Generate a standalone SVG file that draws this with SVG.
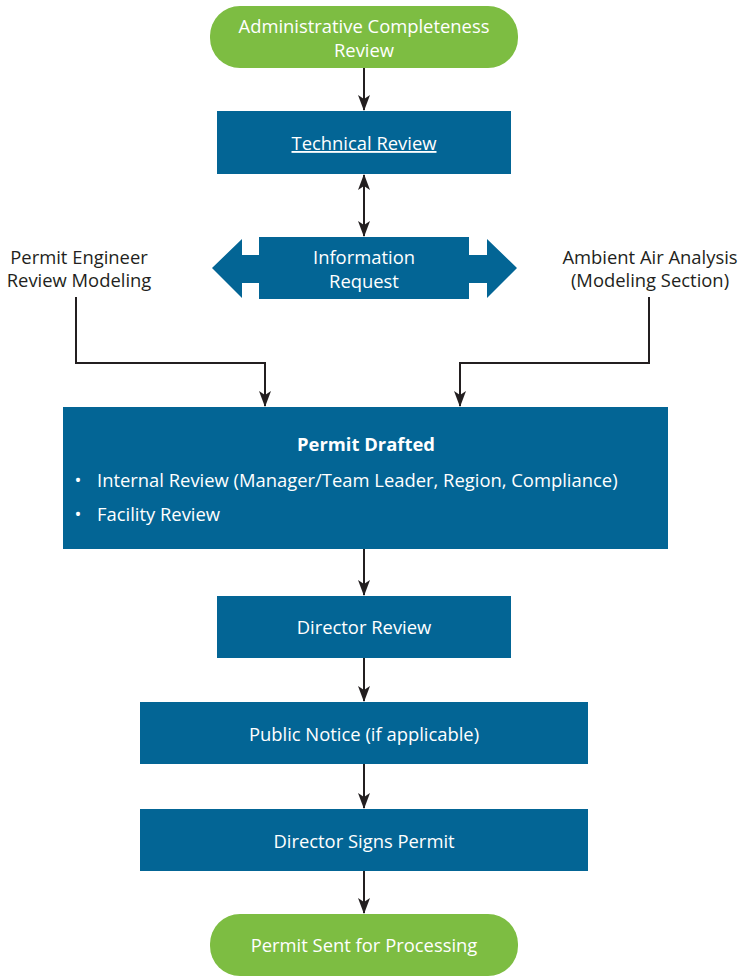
<svg xmlns="http://www.w3.org/2000/svg" width="743" height="976" viewBox="0 0 743 976">
<defs>
<style>
.pill{fill:#7dbd42}
.box{fill:#036595}
.t{font-family:"Open Sans","Liberation Sans",sans-serif;font-size:18.4px;text-anchor:middle}
.w{fill:#ffffff}
.k{fill:#231f20}
.b{font-weight:bold}
.s{text-anchor:start}
.c{fill:none;stroke:#231f20;stroke-width:2}
</style>
<marker id="ah" viewBox="0 0 16 12" refX="15" refY="6" markerWidth="16" markerHeight="12" markerUnits="userSpaceOnUse" orient="auto-start-reverse">
<path d="M0,0 L16,6 L0,12 L4,6 z" fill="#231f20"/>
</marker>
</defs>
<rect width="743" height="976" fill="#ffffff"/>

<g id="connectors">
<line class="c" x1="364" y1="68" x2="364" y2="110" marker-end="url(#ah)"/>
<line class="c" x1="364" y1="175" x2="364" y2="236" marker-start="url(#ah)" marker-end="url(#ah)"/>
<polyline class="c" points="76,297 76,363 265,363 265,406" marker-end="url(#ah)"/>
<polyline class="c" points="649,297 649,363 460,363 460,406" marker-end="url(#ah)"/>
<line class="c" x1="364" y1="549" x2="364" y2="595" marker-end="url(#ah)"/>
<line class="c" x1="364" y1="658" x2="364" y2="701" marker-end="url(#ah)"/>
<line class="c" x1="364" y1="764" x2="364" y2="808" marker-end="url(#ah)"/>
<line class="c" x1="364" y1="871" x2="364" y2="913" marker-end="url(#ah)"/>
</g>

<g id="admin-review">
<rect class="pill" x="210" y="6" width="308" height="62" rx="30"/>
<text class="t w" x="364" y="33">Administrative Completeness</text>
<text class="t w" x="364" y="57">Review</text>
</g>

<g id="technical-review">
<rect class="box" x="217" y="111" width="294" height="63"/>
<text class="t w" x="364" y="150" text-decoration="underline">Technical Review</text>
</g>

<g id="information-request">
<polygon class="box" points="212,268 242,239 242,255 259,255 259,237 469,237 469,255 487,255 487,239 517,268 487,298 487,283 469,283 469,299 259,299 259,283 242,283 242,298"/>
<text class="t w" x="364" y="264">Information</text>
<text class="t w" x="364" y="288">Request</text>
</g>

<g id="permit-engineer">
<text class="t k" x="79" y="264">Permit Engineer</text>
<text class="t k" x="79" y="287">Review Modeling</text>
</g>

<g id="ambient-air">
<text class="t k" x="650" y="264">Ambient Air Analysis</text>
<text class="t k" x="650" y="287">(Modeling Section)</text>
</g>

<g id="permit-drafted">
<rect class="box" x="63" y="407" width="605" height="142"/>
<text class="t w b" x="366" y="451">Permit Drafted</text>
<text class="t w" x="78" y="487">•</text>
<text class="t w s" x="97" y="487">Internal Review (Manager/Team Leader, Region, Compliance)</text>
<text class="t w" x="78" y="521">•</text>
<text class="t w s" x="97" y="521">Facility Review</text>
</g>

<g id="director-review">
<rect class="box" x="217" y="596" width="294" height="62"/>
<text class="t w" x="364" y="634">Director Review</text>
</g>

<g id="public-notice">
<rect class="box" x="140" y="702" width="448" height="62"/>
<text class="t w" x="364" y="741">Public Notice (if applicable)</text>
</g>

<g id="director-signs">
<rect class="box" x="140" y="809" width="448" height="62"/>
<text class="t w" x="364" y="848">Director Signs Permit</text>
</g>

<g id="permit-sent">
<rect class="pill" x="210" y="914" width="308" height="62" rx="30"/>
<text class="t w" x="364" y="952">Permit Sent for Processing</text>
</g>
</svg>
